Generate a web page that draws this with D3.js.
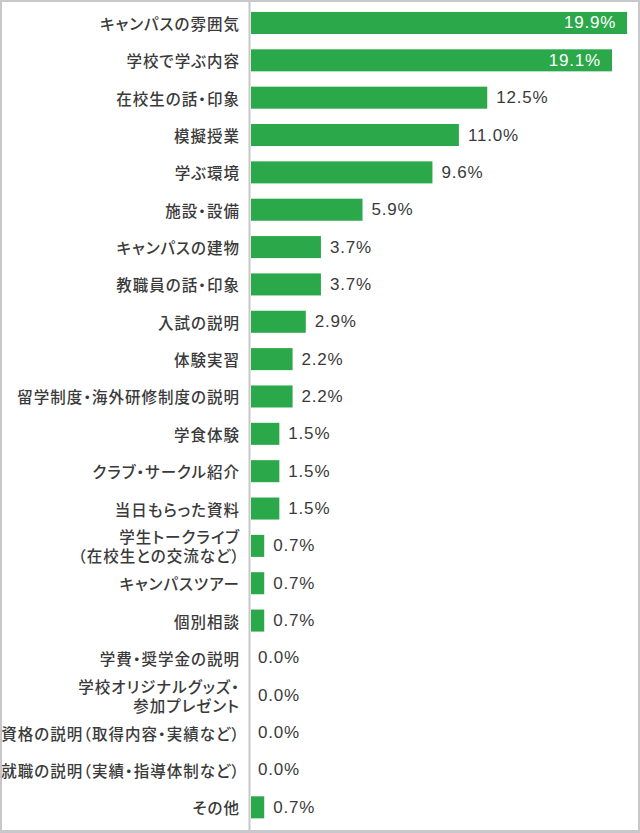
<!DOCTYPE html>
<html><head><meta charset="utf-8">
<script src="https://cdn.jsdelivr.net/npm/d3@7"></script>
<style>
html,body{margin:0;padding:0;background:#fff;}
svg{display:block;}
</style>
</head><body>
<svg id="chart" width="640" height="833"></svg>
<script>
const categories = [
  "キャンパスの雰囲気",
  "学校で学ぶ内容",
  "在校生の話・印象",
  "模擬授業",
  "学ぶ環境",
  "施設・設備",
  "キャンパスの建物",
  "教職員の話・印象",
  "入試の説明",
  "体験実習",
  "留学制度・海外研修制度の説明",
  "学食体験",
  "クラブ・サークル紹介",
  "当日もらった資料",
  "学生トークライブ\n（在校生との交流など）",
  "キャンパスツアー",
  "個別相談",
  "学費・奨学金の説明",
  "学校オリジナルグッズ・\n参加プレゼント",
  "資格の説明（取得内容・実績など）",
  "就職の説明（実績・指導体制など）",
  "その他"
];
const values = [19.9, 19.1, 12.5, 11.0, 9.6, 5.9, 3.7, 3.7, 2.9, 2.2, 2.2, 1.5, 1.5, 1.5, 0.7, 0.7, 0.7, 0.0, 0.0, 0.0, 0.0, 0.7];
const insideLabelMin = 15;

const W = 640, H = 833;
const svg = d3.select("#chart");
const axisX = 251;
const textColor = "#3a3a3a";
const green = "#2ba84a";

const x = d3.scaleLinear().domain([0, 20]).range([axisX, axisX + 20 * 18.9]);
const y = d3.scaleBand().domain(categories).range([4.3, 826]).paddingInner(0.41).paddingOuter(0.205);

// border
svg.append("rect").attr("x", 1).attr("y", 1).attr("width", W - 2).attr("height", H - 3)
  .attr("fill", "none").attr("stroke", "#c8c8cc").attr("stroke-width", 2);
svg.append("rect").attr("x", 0).attr("y", H - 3).attr("width", W).attr("height", 3).attr("fill", "#c8c8cc");

// bars
svg.append("g").selectAll("rect").data(values).join("rect")
  .attr("x", x(0))
  .attr("y", (d, i) => y(categories[i]))
  .attr("width", d => x(d) - x(0))
  .attr("height", y.bandwidth())
  .attr("fill", green);

// axis with category labels
const axis = d3.axisLeft(y).tickSize(0).tickPadding(11);
const gA = svg.append("g").attr("transform", `translate(${axisX - 1},0)`).call(axis);
gA.select(".domain").remove();
gA.selectAll(".tick text").each(function(d) {
  const t = d3.select(this);
  const lines = d.split("\n");
  t.text(null)
    .attr("fill", textColor)
    .style("font-family", "'Noto Sans CJK JP', sans-serif")
    .style("font-size", "15.5px")
    .style("font-weight", "500")
    .style("font-feature-settings", "'palt' 1")
    .style("letter-spacing", "1px")
    .attr("dy", null)
    .attr("dominant-baseline", "central");
  const lh = 19;
  lines.forEach((ln, k) => {
    t.append("tspan").attr("x", -10).attr("y", (k - (lines.length - 1) / 2) * lh).text(ln);
  });
});

// axis line
svg.append("line").attr("x1", axisX - 1.5).attr("x2", axisX - 1.5).attr("y1", 2).attr("y2", H - 3)
  .attr("stroke", "#c8c8cc").attr("stroke-width", 2);

// value labels
svg.append("g").selectAll("text").data(values).join("text")
  .attr("x", d => d >= insideLabelMin ? x(d) - 11 : x(d) + (d === 0 ? 7 : 9))
  .attr("y", (d, i) => y(categories[i]) + y.bandwidth() / 2)
  .attr("dominant-baseline", "central")
  .attr("text-anchor", d => d >= insideLabelMin ? "end" : "start")
  .attr("fill", d => d >= insideLabelMin ? "#fff" : textColor)
  .style("font-family", "'Liberation Sans', Arial, sans-serif")
  .style("font-size", "17px")
  .style("letter-spacing", "0.8px")
  .text(d => d.toFixed(1) + "%");
</script>
</body></html>
